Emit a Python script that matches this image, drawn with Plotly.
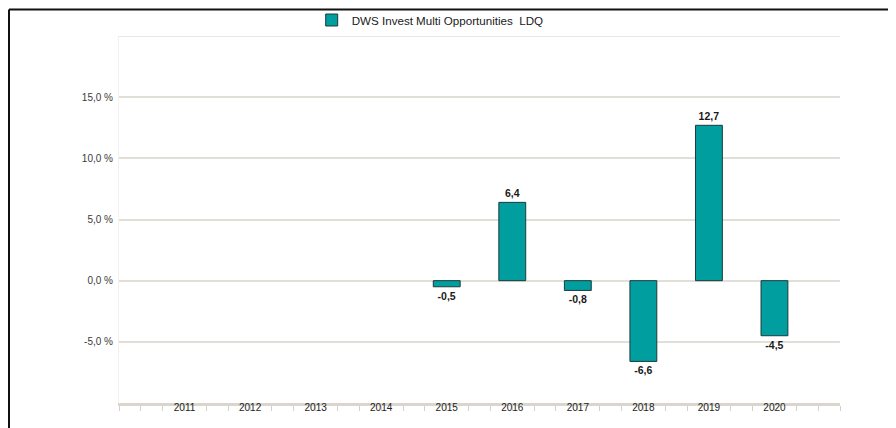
import plotly.graph_objects as go

years = [2011, 2012, 2013, 2014, 2015, 2016, 2017, 2018, 2019, 2020]
returns = [None, None, None, None, -0.5, 6.4, -0.8, -6.6, 12.7, -4.5]
series_name = "DWS Invest Multi Opportunities\u00a0\u00a0LDQ"
y_tickvals = [-5, 0, 5, 10, 15, 20]
y_ticktext = ["-5,0 %", "0,0 %", "5,0 %", "10,0 %", "15,0 %", ""]
x_minor = [2010 + i / 3 for i in range(34)]

labels = ["" if v is None else f"{v:.1f}".replace(".", ",") for v in returns]

# figure is 888x420 because the page adds an 8px body margin
W, H = 888, 420
L, R, T, B = 111, 56, 28, 25
PW, PH = W - L - R, H - T - B


def px(fx):
    return (fx - L) / PW


def py(fy):
    return (H - B - fy) / PH


fig = go.Figure()
fig.add_trace(go.Bar(
    x=years, y=returns, name=series_name,
    width=0.41,
    marker=dict(color="#009e9f", line=dict(color="#1c3b3b", width=1)),
    text=labels, textposition="outside", cliponaxis=False,
    textfont=dict(family="Liberation Sans, Arial", size=10.5, color="#1a1a1a", weight="bold"),
    showlegend=True,
))

fig.update_layout(
    width=W, height=H,
    margin=dict(l=L, r=R, t=T, b=B, autoexpand=False),
    paper_bgcolor="white", plot_bgcolor="white",
    font=dict(family="Liberation Sans, Arial", size=10, color="#333333"),
    showlegend=True,
    legend=dict(orientation="h", xref="container", yref="container",
                x=0.342, xanchor="left", y=1 - 12 / H, yanchor="middle",
                font=dict(size=11.6, color="#1a1a1a"), itemwidth=30,
                bgcolor="rgba(0,0,0,0)"),
)
fig.update_xaxes(
    range=[2010, 2021], tickmode="array", tickvals=years,
    ticktext=[str(y) for y in years], ticks="", showgrid=False,
    showline=True, linecolor="#dad6cd", linewidth=3,
    tickfont=dict(size=10, color="#222222"), ticklabelstandoff=-7,
    minor=dict(tickmode="array", tickvals=x_minor, ticks="outside",
               ticklen=5, tickcolor="#d6d2c9", tickwidth=1, showgrid=False),
    zeroline=False, fixedrange=True,
)
fig.update_yaxes(
    range=[-10, 20], tickmode="array", tickvals=y_tickvals, ticktext=y_ticktext,
    showgrid=True, gridcolor="#e2dfd8", gridwidth=1.5,
    zeroline=True, zerolinecolor="#e2dfd8", zerolinewidth=1.5,
    showline=True, linecolor="#f1f1f1", linewidth=1,
    ticks="", ticklabelstandoff=3,
    tickfont=dict(size=10, color="#3a3a3a"),
)

# top gridline (at the upper range edge)
fig.add_shape(type="line", xref="paper", yref="y", x0=0, x1=1, y0=20, y1=20,
              line=dict(color="#e2dfd8", width=1.5), layer="below")

# outer frame lines (top and left)
fig.add_shape(type="line", xref="paper", yref="paper",
              x0=px(1), x1=px(W + 5), y0=py(1.5), y1=py(1.5),
              line=dict(color="#111111", width=2))
fig.add_shape(type="line", xref="paper", yref="paper",
              x0=px(1), x1=px(1), y0=py(1.5), y1=py(H + 5),
              line=dict(color="#111111", width=2))

fig.write_html("out.html")
